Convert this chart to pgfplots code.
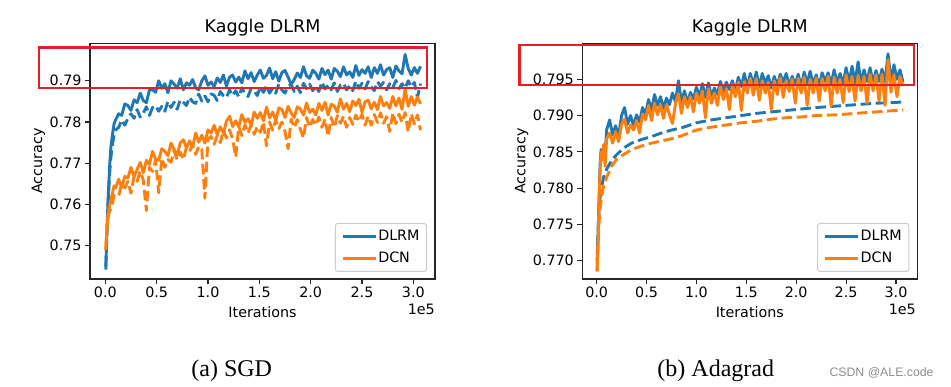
\documentclass[border=0pt]{standalone}
\usepackage{fontspec}
\setmainfont{DejaVu Sans}
\newfontfamily\capfont{Liberation Serif}
\newfontfamily\wmfont{Liberation Sans}
\usepackage{pgfplots}
\usepackage{pgfplotstable}
\pgfplotsset{compat=1.18}
\definecolor{tabblue}{RGB}{31,119,180}
\definecolor{taborange}{RGB}{255,127,14}
\definecolor{boxred}{RGB}{232,30,38}
\newcommand{\tickfont}{\fontsize{14.3}{17}\selectfont}
\newcommand{\titlefont}{\fontsize{17.5}{21}\selectfont}

\pgfplotstableread{
x b bd o od
0.005 .7442 .7450 .7490 .7492
0.015 .7530 .7520 .7540 .7535
0.025 .7600 .7590 .7575 .7565
0.035 .7655 .7640 .7588 .7578
0.045 .7705 .7685 .7600 .7585
0.055 .7740 .7715 .7612 .7590
0.070 .7770 .7745 .7628 .7602
0.085 .7795 .7768 .7645 .7622
0.100 .7805 .7780 .7640 .7618
0.13 .7820 .7787 .7661 .7621
0.16 .7816 .7805 .7641 .7651
0.19 .7844 .7792 .7668 .7640
0.22 .7840 .7809 .7664 .7656
0.25 .7828 .7820 .7690 .7627
0.28 .7854 .7809 .7667 .7668
0.31 .7847 .7830 .7685 .7656
0.34 .7870 .7812 .7702 .7681
0.37 .7852 .7822 .7677 .7659
0.40 .7847 .7837 .7707 .7585
0.43 .7878 .7816 .7697 .7690
0.46 .7878 .7835 .7729 .7680
0.49 .7872 .7840 .7710 .7707
0.52 .7900 .7826 .7707 .7628
0.55 .7882 .7838 .7735 .7712
0.58 .7893 .7826 .7729 .7690
0.61 .7871 .7850 .7718 .7709
0.64 .7900 .7835 .7749 .7702
0.67 .7892 .7848 .7733 .7730
0.70 .7882 .7831 .7720 .7708
0.73 .7905 .7854 .7749 .7727
0.76 .7878 .7848 .7757 .7709
0.79 .7895 .7840 .7737 .7738
0.82 .7889 .7860 .7754 .7728
0.85 .7903 .7849 .7739 .7745
0.88 .7883 .7845 .7773 .7721
0.91 .7878 .7868 .7751 .7741
0.94 .7900 .7851 .7768 .7733
0.97 .7912 .7863 .7749 .7615
1.00 .7889 .7849 .7781 .7759
1.03 .7897 .7868 .7773 .7765
1.06 .7886 .7865 .7792 .7746
1.09 .7907 .7852 .7770 .7767
1.12 .7896 .7874 .7788 .7750
1.15 .7914 .7864 .7773 .7780
1.18 .7887 .7859 .7802 .7761
1.21 .7909 .7878 .7814 .7781
1.24 .7914 .7864 .7789 .7759
1.27 .7897 .7876 .7803 .7715
1.30 .7909 .7861 .7788 .7789
1.33 .7895 .7883 .7818 .7767
1.36 .7924 .7869 .7799 .7793
1.39 .7905 .7862 .7808 .7773
1.42 .7920 .7881 .7792 .7793
1.45 .7898 .7876 .7824 .7770
1.48 .7914 .7864 .7809 .7789
1.51 .7926 .7885 .7823 .7775
1.54 .7906 .7872 .7803 .7800
1.57 .7913 .7888 .7836 .7742
1.60 .7931 .7870 .7810 .7800
1.63 .7905 .7882 .7824 .7780
1.66 .7922 .7870 .7804 .7805
1.69 .7899 .7892 .7834 .7784
1.72 .7920 .7878 .7830 .7800
1.75 .7925 .7870 .7811 .7777
1.78 .7909 .7887 .7838 .7735
1.81 .7891 .7891 .7822 .7807
1.84 .7903 .7874 .7811 .7786
1.87 .7919 .7887 .7837 .7806
1.90 .7908 .7871 .7831 .7782
1.93 .7934 .7894 .7817 .7761
1.96 .7912 .7881 .7846 .7811
1.99 .7906 .7892 .7823 .7787
2.02 .7926 .7876 .7831 .7806
2.05 .7918 .7886 .7817 .7792
2.08 .7904 .7874 .7845 .7812
2.11 .7930 .7897 .7828 .7787
2.14 .7915 .7880 .7848 .7807
2.17 .7926 .7889 .7817 .7765
2.20 .7904 .7878 .7843 .7811
2.23 .7930 .7895 .7839 .7787
2.26 .7923 .7874 .7824 .7816
2.29 .7910 .7890 .7856 .7797
2.32 .7934 .7894 .7831 .7814
2.35 .7914 .7878 .7845 .7787
2.38 .7922 .7888 .7825 .7811
2.41 .7908 .7876 .7851 .7794
2.44 .7937 .7899 .7840 .7817
2.47 .7913 .7882 .7855 .7801
2.50 .7927 .7894 .7824 .7819
2.53 .7918 .7880 .7849 .7792
2.56 .7934 .7898 .7853 .7814
2.59 .7908 .7885 .7832 .7792
2.62 .7932 .7876 .7848 .7818
2.65 .7918 .7898 .7830 .7799
2.68 .7939 .7887 .7862 .7822
2.71 .7914 .7896 .7839 .7797
2.74 .7927 .7878 .7847 .7813
2.77 .7932 .7893 .7833 .7777
2.80 .7908 .7883 .7862 .7822
2.83 .7936 .7901 .7839 .7796
2.86 .7924 .7881 .7858 .7819
2.89 .7917 .7893 .7831 .7799
2.92 .7964 .7882 .7880 .7823
2.95 .7930 .7900 .7838 .7776
2.98 .7914 .7885 .7862 .7820
3.01 .7932 .7896 .7841 .7795
3.04 .7918 .7860 .7861 .7817
3.07 .7935 .7893 .7844 .7780
}\sgd

\pgfplotstableread{
x b o
0.005 .7687 .7685
0.015 .7740 .7730
0.025 .7790 .7785
0.035 .7835 .7825
0.045 .7853 .7850
0.055 .7848 .7838
0.070 .7856 .7860
0.085 .7845 .7830
0.100 .7880 .7868
0.13 .7894 .7876
0.16 .7874 .7862
0.19 .7886 .7878
0.22 .7872 .7864
0.25 .7900 .7888
0.28 .7911 .7895
0.31 .7888 .7876
0.34 .7900 .7887
0.37 .7886 .7880
0.40 .7901 .7893
0.43 .7891 .7876
0.46 .7911 .7902
0.49 .7902 .7894
0.52 .7922 .7914
0.55 .7907 .7893
0.58 .7929 .7917
0.61 .7914 .7901
0.64 .7926 .7915
0.67 .7910 .7896
0.70 .7924 .7915
0.73 .7915 .7901
0.76 .7931 .7889
0.79 .7919 .7916
0.82 .7948 .7930
0.85 .7918 .7903
0.88 .7934 .7926
0.91 .7917 .7911
0.94 .7932 .7926
0.97 .7923 .7905
1.00 .7939 .7931
1.03 .7926 .7917
1.06 .7944 .7934
1.09 .7925 .7897
1.12 .7945 .7937
1.15 .7926 .7917
1.18 .7938 .7931
1.21 .7929 .7914
1.24 .7947 .7941
1.27 .7933 .7922
1.30 .7946 .7937
1.33 .7936 .7908
1.36 .7948 .7943
1.39 .7934 .7926
1.42 .7953 .7946
1.45 .7940 .7907
1.48 .7958 .7947
1.51 .7939 .7931
1.54 .7958 .7951
1.57 .7942 .7928
1.60 .7960 .7951
1.63 .7940 .7921
1.66 .7958 .7948
1.69 .7944 .7931
1.72 .7955 .7946
1.75 .7938 .7908
1.78 .7954 .7948
1.81 .7941 .7929
1.84 .7957 .7952
1.87 .7946 .7925
1.90 .7958 .7948
1.93 .7941 .7933
1.96 .7954 .7950
1.99 .7943 .7917
2.02 .7957 .7951
2.05 .7940 .7931
2.08 .7960 .7953
2.11 .7945 .7914
2.14 .7961 .7950
2.17 .7943 .7931
2.20 .7956 .7952
2.23 .7941 .7920
2.26 .7959 .7951
2.29 .7947 .7934
2.32 .7959 .7954
2.35 .7943 .7913
2.38 .7963 .7953
2.41 .7945 .7931
2.44 .7958 .7950
2.47 .7943 .7918
2.50 .7966 .7956
2.53 .7946 .7933
2.56 .7968 .7954
2.59 .7945 .7920
2.62 .7974 .7955
2.65 .7945 .7934
2.68 .7963 .7954
2.71 .7947 .7917
2.74 .7966 .7957
2.77 .7945 .7934
2.80 .7962 .7956
2.83 .7947 .7920
2.86 .7964 .7957
2.89 .7946 .7914
2.92 .7985 .7977
2.95 .7948 .7932
2.98 .7970 .7956
3.01 .7950 .7926
3.04 .7963 .7954
3.07 .7946 .7941
}\adasolid

\pgfplotstableread{
x bd od
0.005 .7700 .7686
0.015 .7745 .7725
0.025 .7772 .7755
0.035 .7788 .7772
0.05 .7802 .7788
0.07 .7815 .7803
0.10 .7826 .7815
0.15 .7838 .7830
0.20 .7846 .7840
0.28 .7856 .7847
0.35 .7862 .7853
0.45 .7867 .7858
0.55 .7871 .7862
0.65 .7876 .7865
0.75 .7880 .7868
0.85 .7883 .7872
1.00 .7890 .7880
1.15 .7894 .7884
1.30 .7897 .7887
1.45 .7900 .7890
1.60 .7903 .7892
1.75 .7905 .7895
1.90 .7907 .7897
2.05 .7909 .7898
2.20 .7911 .7900
2.40 .7913 .7901
2.60 .7915 .7903
2.80 .7917 .7905
3.00 .7918 .7907
3.07 .7919 .7908
}\adadash

\pgfplotsset{
  kag/.style={
    scale only axis, height=235.7pt,
    axis line style={line width=1.1pt, black!85},
    tick align=outside, major tick length=5pt,
    every tick/.style={line width=1.1pt, black!85},
    xtick pos=bottom, ytick pos=left,
    xtick={0,0.5,1,1.5,2,2.5,3},
    xticklabels={0.0,0.5,1.0,1.5,2.0,2.5,3.0},
    xticklabel style={font=\tickfont, anchor=north, inner sep=0pt, yshift=-3pt},
    yticklabel style={font=\tickfont, anchor=east, inner sep=0pt, xshift=-3.3pt},
    title style={font=\titlefont, at={(axis description cs:0.5,1)}, anchor=base, yshift=5pt, inner sep=0pt},
    xlabel style={font=\tickfont, at={(axis description cs:0.5,0)}, anchor=base, yshift=-38.3pt, inner sep=0pt},
    ylabel style={font=\tickfont, anchor=base, inner sep=0pt},
    legend style={at={([xshift=-8pt,yshift=7pt]axis description cs:1,0)}, anchor=south east,
      draw=black!20, line width=1pt, rounded corners=2.5pt, fill=white, font=\tickfont,
      inner xsep=6pt, inner ysep=6pt, row sep=8pt, nodes={inner sep=1pt},
      /tikz/every even column/.append style={column sep=11pt}},
    legend cell align=left,
    legend image code/.code={\draw[#1, line width=2.9pt, line cap=butt] (0pt,0pt) -- (33pt,0pt);},
    solidline/.style={line width=2.9pt, line join=round},
    dashline/.style={line width=2.9pt, line join=round, dash pattern=on 10.5pt off 4.6pt},
  }
}

\begin{document}
\begin{tikzpicture}[x=1pt,y=1pt]
\path[use as bounding box] (0,0) rectangle (951,387);

\begin{axis}[kag, at={(90pt,108pt)}, anchor=south west, width=345pt,
  xmin=-0.149, xmax=3.211, ymin=0.7419, ymax=0.7991,
  ytick={0.75,0.76,0.77,0.78,0.79}, yticklabels={0.75,0.76,0.77,0.78,0.79},
  title={Kaggle DLRM}, xlabel={Iterations}, ylabel={Accuracy},
  ylabel style={at={([xshift=-48pt]axis description cs:0,0.5)}}]
\addplot[tabblue, solidline] table[x=x,y=b]{\sgd};
\addlegendentry{DLRM}
\addplot[tabblue, dashline, forget plot] table[x=x,y=bd]{\sgd};
\addplot[taborange, solidline] table[x=x,y=o]{\sgd};
\addlegendentry{DCN}
\addplot[taborange, dashline, forget plot] table[x=x,y=od]{\sgd};
\end{axis}

\begin{axis}[kag, at={(582.3pt,108pt)}, anchor=south west, width=335pt,
  xmin=-0.1437, xmax=3.2137, ymin=0.76747, ymax=0.79996,
  ytick={0.770,0.775,0.780,0.785,0.790,0.795},
  yticklabels={0.770,0.775,0.780,0.785,0.790,0.795},
  title={Kaggle DLRM}, xlabel={Iterations}, ylabel={Accuracy},
  ylabel style={at={([xshift=-56.9pt]axis description cs:0,0.5)}}]
\addplot[tabblue, solidline] table[x=x,y=b]{\adasolid};
\addlegendentry{DLRM}
\addplot[tabblue, dashline, forget plot] table[x=x,y=bd]{\adadash};
\addplot[taborange, solidline] table[x=x,y=o]{\adasolid};
\addlegendentry{DCN}
\addplot[taborange, dashline, forget plot] table[x=x,y=od]{\adadash};
\end{axis}

\node[font=\tickfont, anchor=base east, inner sep=0pt] at (435pt,72pt) {1e5};
\node[font=\tickfont, anchor=base east, inner sep=0pt] at (916pt,72pt) {1e5};

\draw[boxred, line width=2.4pt] (39pt,298.7pt) rectangle (427pt,339.3pt);
\draw[boxred, line width=2.4pt] (519.3pt,302pt) rectangle (914pt,342pt);

\node[font=\capfont\fontsize{24}{28}\selectfont, anchor=base, inner sep=0pt] at (231.7pt,10.3pt) {(a) SGD};
\node[font=\capfont\fontsize{24}{28}\selectfont, anchor=base, inner sep=0pt] at (715.8pt,10.3pt) {(b) Adagrad};
\node[font=\wmfont\fontsize{12.3}{14}\selectfont, text=black!45, anchor=base west, inner sep=0pt] at (829.3pt,10.3pt) {CSDN @ALE.code};
\end{tikzpicture}
\end{document}
